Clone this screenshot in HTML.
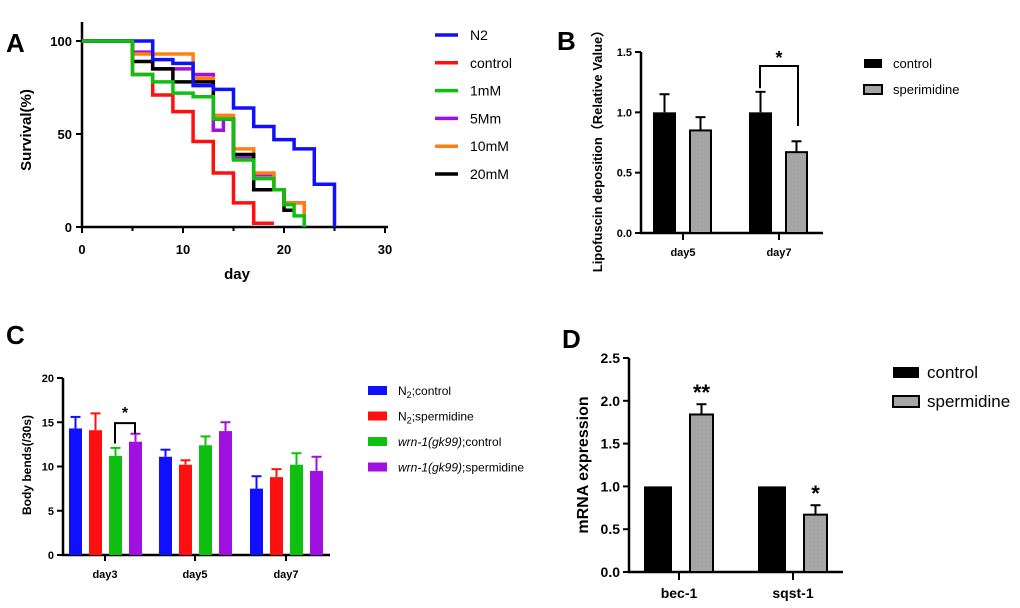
<!DOCTYPE html>
<html><head><meta charset="utf-8"><style>
html,body{margin:0;padding:0;background:#fff;}
svg{display:block;font-family:"Liberation Sans",Arial,sans-serif;}
text{font-weight:bold;}
</style></head><body>
<svg id="fig" width="1020" height="608" viewBox="0 0 1020 608" xmlns="http://www.w3.org/2000/svg">
<defs><pattern id="dots" width="4" height="4" patternUnits="userSpaceOnUse"><rect width="4" height="4" fill="#a6a6a6"/><rect x="1" y="2" width="1" height="1" fill="#9a9aa8"/></pattern></defs>
<g id="A"></g>
<g id="B"></g>
<g id="C"></g>
<g id="D"></g>
</svg>
<script>
// Panel A data
const aDays = [0,5,7,9,11,13,15,17,19,20,21,22,23,25];
const aSeriesNames = ["N2","control","1mM","5Mm","10mM","20mM"];
const aN2 = [[0,100],[7,90],[9,88],[11,76],[13,74],[15,64],[17,54],[19,47],[21,42],[23,23],[25,0]];
const aControl = [[0,100],[5,82],[7,71],[9,62],[11,46],[13,29],[15,13],[17,2],[19,2]];
const a1mM = [[0,100],[5,82],[7,78],[9,72],[11,70],[13,58],[15,36],[17,26],[19,20],[20,12],[21,6],[22,0]];
const a5Mm = [[0,100],[5,94],[7,85],[11,82],[13,52],[14,58],[15,37],[17,28],[19,20],[20,13],[22,6]];
const a10mM = [[0,100],[5,93],[11,80],[13,60],[15,42],[17,29],[19,20],[20,13],[22,6]];
const a20mM = [[0,100],[5,89],[7,85],[9,78],[13,58],[15,39],[17,20],[19,20],[20,9],[21,9]];
const aXTicks = [0,10,20,30];
const aYTicks = [0,50,100];
// Panel B data
const bCats = ["day5","day7"];
const bControl = [1.0,1.0];
const bControlErr = [0.15,0.17];
const bSperm = [0.85,0.67];
const bSpermErr = [0.11,0.09];
const bYTicks = [0.0,0.5,1.0,1.5];
// Panel C data
const cCats = ["day3","day5","day7"];
const cN2Control = [14.3,11.1,7.5];
const cN2ControlErr = [1.3,0.8,1.4];
const cN2Sperm = [14.1,10.2,8.8];
const cN2SpermErr = [1.9,0.5,0.9];
const cWrnControl = [11.2,12.4,10.2];
const cWrnControlErr = [0.9,1.0,1.3];
const cWrnSperm = [12.8,14.0,9.5];
const cWrnSpermErr = [0.9,1.0,1.6];
const cYTicks = [0,5,10,15,20];
// Panel D data
const dCats = ["bec-1","sqst-1"];
const dControl = [1.0,1.0];
const dSperm = [1.84,0.67];
const dSpermErr = [0.12,0.11];
const dYTicks = [0.0,0.5,1.0,1.5,2.0,2.5];

const NS="http://www.w3.org/2000/svg";
function mk(parent,tag,attrs,txt){const e=document.createElementNS(NS,tag);for(const k in attrs)e.setAttribute(k,attrs[k]);if(txt!==undefined)e.textContent=txt;parent.appendChild(e);return e;}

// ---------- Panel A ----------
(function(){
const g=document.getElementById('A');
const X=d=>82+d*(303/30), Y=v=>227-v*1.86;
let t=mk(g,'text',{x:6,y:52,'font-size':26});t.textContent='A';


let ax=mk(g,'path',{d:`M82 22 V227 H388`,stroke:'#000','stroke-width':2.5,fill:'none'});


aYTicks.forEach(v=>{mk(g,'line',{x1:76,x2:82,y1:Y(v),y2:Y(v),stroke:'#000','stroke-width':2});
 const l=mk(g,'text',{x:72,y:Y(v)+5,'text-anchor':'end','font-size':13},v);
 
 });
aXTicks.forEach(v=>{mk(g,'line',{x1:X(v),x2:X(v),y1:227,y2:233,stroke:'#000','stroke-width':2});
 const l=mk(g,'text',{x:X(v),y:254,'text-anchor':'middle','font-size':13},v);
 
 });
[5,15,25].forEach(v=>mk(g,'line',{x1:X(v),x2:X(v),y1:227,y2:231,stroke:'#000','stroke-width':2}));
let xl=mk(g,'text',{x:237,y:279,'text-anchor':'middle','font-size':15},'day');


let yl=mk(g,'text',{x:0,y:0,'text-anchor':'middle','font-size':15,transform:'translate(31,130) rotate(-90)'},'Survival(%)');


const series=[[aN2,'#1010ff'],[aControl,'#ff1010'],[a1mM,'#10c010'],[a5Mm,'#a010e0'],[a10mM,'#ff8010'],[a20mM,'#000']];
const order=[3,4,5,1,0,2];
order.forEach(i=>{const [pts,c]=series[i];let d=`M${X(pts[0][0])} ${Y(pts[0][1])}`;
 for(let k=1;k<pts.length;k++){d+=` H${X(pts[k][0])} V${Y(pts[k][1])}`;}
 const p=mk(g,'path',{d:d,stroke:c,'stroke-width':3.5,fill:'none'});
 
 });
series.forEach(([pts,c],i)=>{const y=35+i*27.8;
 const ln=mk(g,'line',{x1:435,x2:458,y1:y,y2:y,stroke:c,'stroke-width':3.5});
 
 
 const tx=mk(g,'text',{x:470,y:y+5,'font-size':14,style:'font-weight:normal'},aSeriesNames[i]);
 
 });
})();

function errBar(g,x,yTop,yErr,c){mk(g,'line',{x1:x,x2:x,y1:yTop,y2:yErr,stroke:c,'stroke-width':2});mk(g,'line',{x1:x-5,x2:x+5,y1:yErr,y2:yErr,stroke:c,'stroke-width':2});}

// ---------- Panel B ----------
(function(){
const g=document.getElementById('B');
const Y=v=>233-v*(181/1.5);
const tickX=[683,779];
let t=mk(g,'text',{x:557,y:50,'font-size':26},'B');


const ax=mk(g,'path',{d:'M641 52 V233 H823',stroke:'#000','stroke-width':2.5,fill:'none'});


bYTicks.forEach(v=>{mk(g,'line',{x1:635,x2:641,y1:Y(v),y2:Y(v),stroke:'#000','stroke-width':2});
 const l=mk(g,'text',{x:632,y:Y(v)+4,'text-anchor':'end','font-size':11},v.toFixed(1));
 
 });
bCats.forEach((c,i)=>{const x=tickX[i];mk(g,'line',{x1:x,x2:x,y1:233,y2:240,stroke:'#000','stroke-width':2});
 const l=mk(g,'text',{x:x,y:256,'text-anchor':'middle','font-size':11},c);
 
 
 const x1=x-30,x2=x+6;
 errBar(g,x1+11.5,Y(bControl[i]),Y(bControl[i]+bControlErr[i]),'#000');
 const r1=mk(g,'rect',{x:x1,y:Y(bControl[i]),width:23,height:233-Y(bControl[i]),fill:'#000'});
 
 
 errBar(g,x2+11.5,Y(bSperm[i]),Y(bSperm[i]+bSpermErr[i]),'#000');
 const r2=mk(g,'rect',{x:x2+1,y:Y(bSperm[i]),width:21,height:233-Y(bSperm[i]),fill:'url(#dots)',stroke:'#000','stroke-width':2});
 
 });
mk(g,'path',{d:`M760 ${Y(1.2)} V66 H798 V126`,stroke:'#000','stroke-width':2,fill:'none'});
const s=mk(g,'text',{x:779,y:64,'text-anchor':'middle','font-size':18},'*');


const yl=mk(g,'text',{x:0,y:0,'text-anchor':'middle','font-size':13,transform:'translate(602,148) rotate(-90)'},'Lipofuscin deposition（Relative Value）');


[['control','#000',''],['sperimidine','url(#dots)','#000']].forEach(([n,f,s2],i)=>{const y=59+i*26;
 const r=mk(g,'rect',{x:864,y:y,width:18,height:9,fill:f,stroke:s2||'none','stroke-width':2});
 
 
 const tx=mk(g,'text',{x:893,y:y+9,'font-size':13,style:'font-weight:normal'},n);
 
 });
})();

// ---------- Panel C ----------
(function(){
const g=document.getElementById('C');
const Y=v=>555-v*(177/20);
const tickX=[105,195,286];
const offs=[-36,-16,4,24];
const ser=[[cN2Control,cN2ControlErr,'#1010ff','n2-control'],[cN2Sperm,cN2SpermErr,'#ff1010','n2-spermidine'],[cWrnControl,cWrnControlErr,'#10c010','wrn1-control'],[cWrnSperm,cWrnSpermErr,'#a010e0','wrn1-spermidine']];
let t=mk(g,'text',{x:6,y:344,'font-size':26},'C');


const ax=mk(g,'path',{d:'M63 378 V555 H330',stroke:'#000','stroke-width':2.5,fill:'none'});


cYTicks.forEach(v=>{mk(g,'line',{x1:57,x2:63,y1:Y(v),y2:Y(v),stroke:'#000','stroke-width':2});
 const l=mk(g,'text',{x:54,y:Y(v)+4,'text-anchor':'end','font-size':11},v);
 
 });
cCats.forEach((c,i)=>{const x=tickX[i];mk(g,'line',{x1:x,x2:x,y1:555,y2:561,stroke:'#000','stroke-width':2});
 const l=mk(g,'text',{x:x,y:578,'text-anchor':'middle','font-size':11},c);
 
 
 ser.forEach(([v,e,col,n],j)=>{const bx=x+offs[j];
  errBar(g,bx+6.5,Y(v[i]),Y(v[i]+e[i]),col);
  const r=mk(g,'rect',{x:bx,y:Y(v[i]),width:13,height:555-Y(v[i]),fill:col});
  
  });});
mk(g,'path',{d:`M115 ${Y(12.6)} V${Y(14.9)} H135 V${Y(13.7)}`,stroke:'#000','stroke-width':2,fill:'none'});
const s=mk(g,'text',{x:125,y:418,'text-anchor':'middle','font-size':16},'*');


const yl=mk(g,'text',{x:0,y:0,'text-anchor':'middle','font-size':12,transform:'translate(31,465) rotate(-90)'},'Body bends(/30s)');


const labs=[['N','2',';control',false],['N','2',';spermidine',false],['wrn-1(gk99)','',';control',true],['wrn-1(gk99)','',';spermidine',true]];
ser.forEach(([v,e,col],j)=>{const y=386+j*25.5;
 const r=mk(g,'rect',{x:368,y:y,width:19,height:9,fill:col});
 
 
 const tx=mk(g,'text',{x:398,y:y+9,'font-size':12,style:'font-weight:normal'});
 
 
 const [a,b,c2,it]=labs[j];
 mk(tx,'tspan',it?{'font-style':'italic'}:{},a);
 if(b)mk(tx,'tspan',{'font-size':9,dy:3},b);
 mk(tx,'tspan',b?{dy:-3}:{},c2);});
})();

// ---------- Panel D ----------
(function(){
const g=document.getElementById('D');
const Y=v=>572-v*(214/2.5);
const tickX=[679,793];
let t=mk(g,'text',{x:562,y:348,'font-size':26},'D');


const ax=mk(g,'path',{d:'M629 358 V572 H843',stroke:'#000','stroke-width':2.5,fill:'none'});


dYTicks.forEach(v=>{mk(g,'line',{x1:623,x2:629,y1:Y(v),y2:Y(v),stroke:'#000','stroke-width':2});
 const l=mk(g,'text',{x:620,y:Y(v)+5,'text-anchor':'end','font-size':14},v.toFixed(1));
 
 });
dCats.forEach((c,i)=>{const x=tickX[i];mk(g,'line',{x1:x,x2:x,y1:572,y2:580,stroke:'#000','stroke-width':2});
 const l=mk(g,'text',{x:x,y:598,'text-anchor':'middle','font-size':14},c);
 
 
 const r1=mk(g,'rect',{x:x-35,y:Y(dControl[i]),width:28,height:572-Y(dControl[i]),fill:'#000'});
 
 
 errBar(g,x+22.5,Y(dSperm[i]),Y(dSperm[i]+dSpermErr[i]),'#000');
 const r2=mk(g,'rect',{x:x+11,y:Y(dSperm[i]),width:23,height:572-Y(dSperm[i]),fill:'url(#dots)',stroke:'#000','stroke-width':2});
 
 
 const s=mk(g,'text',{x:x+22.5,y:Y(dSperm[i]+dSpermErr[i])-4,'text-anchor':'middle','font-size':22},i===0?'**':'*');
 
 });
const yl=mk(g,'text',{x:0,y:0,'text-anchor':'middle','font-size':16,transform:'translate(588,465) rotate(-90)'},'mRNA expression');


[['control','#000',''],['spermidine','url(#dots)','#000']].forEach(([n,f,s2],i)=>{const y=367+i*29;
 const r=mk(g,'rect',{x:893,y:y,width:26,height:11,fill:f,stroke:s2||'none','stroke-width':2});
 
 
 const tx=mk(g,'text',{x:927,y:y+11,'font-size':17,style:'font-weight:normal'},n);
 
 });
})();
</script>
</body></html>
